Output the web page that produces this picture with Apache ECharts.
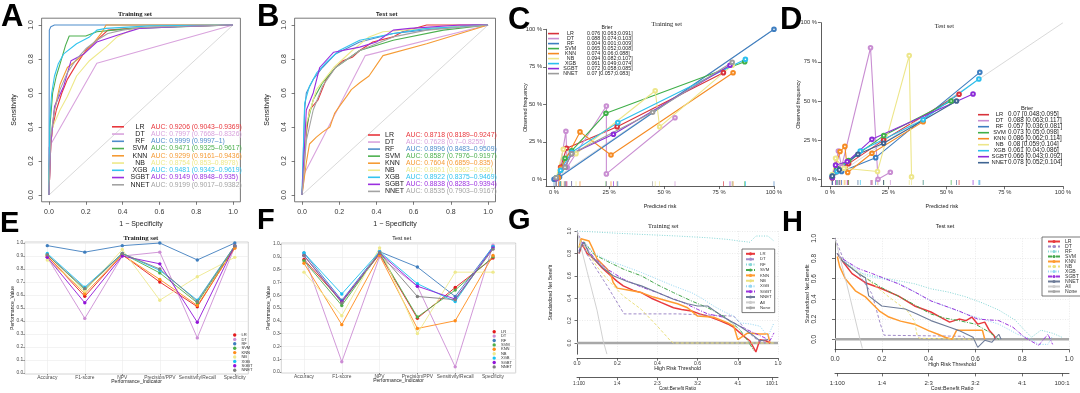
<!DOCTYPE html>
<html><head><meta charset="utf-8">
<script src="https://cdn.jsdelivr.net/npm/echarts@6/dist/echarts.min.js"></script>
<style>html,body{margin:0;padding:0;background:#fff}#c{width:1080px;height:393px}</style>
</head><body><div id="c"></div>
<script>
// ---------------- DATA ----------------
const models = ['LR','DT','RF','SVM','KNN','NB','XGB','SGBT','NNET'];
const dcaNames = ['LR','DT','RF','SVM','KNN','NB','XGB','SGBT','NNET','All','None'];

const aucTrain = ['0.9206 (0.9043\u20130.9369)','0.7997 (0.7668\u20130.8326)','0.9999 (0.9997\u20131)','0.9471 (0.9325\u20130.9617)','0.9299 (0.9161\u20130.9436)','0.8754 (0.853\u20130.8978)','0.9481 (0.9342\u20130.9619)','0.9149 (0.8948\u20130.935)','0.9199 (0.9017\u20130.9382)'];
const aucTest = ['0.8718 (0.8189\u20130.9247)','0.7628 (0.7\u20130.8255)','0.8996 (0.8483\u20130.9509)','0.8587 (0.7976\u20130.9197)','0.7604 (0.6859\u20130.835)','0.8861 (0.8362\u20130.936)','0.8922 (0.8375\u20130.9469)','0.8838 (0.8283\u20130.9394)','0.8535 (0.7903\u20130.9167)'];

const brierTrain = ['0.076 [0.063;0.091]','0.088 [0.074;0.103]','0.004 [0.001;0.009]','0.065 [0.052;0.008]','0.074 [0.06;0.088]','0.094 [0.082;0.107]','0.061 [0.049;0.074]','0.072 [0.058;0.085]','0.07 [0.057;0.083]'];
const brierTest = ['0.07 [0.048;0.095]','0.088 [0.063;0.117]','0.057 [0.036;0.081]','0.073 [0.05;0.098]','0.086 [0.062;0.114]','0.08 [0.059;0.104]','0.061 [0.04;0.086]','0.066 [0.043;0.092]','0.078 [0.052;0.104]'];

// ROC curves [1-specificity, sensitivity]
const rocTrain = [
 [[0,0],[0.01,0.3],[0.02,0.4],[0.04,0.5],[0.07,0.6],[0.1,0.68],[0.15,0.77],[0.2,0.85],[0.25,0.9],[0.28,0.93],[0.32,0.97],[0.45,0.98],[0.6,0.99],[1,1]],
 [[0,0],[0,0.28],[0.26,0.775],[1,1]],
 [[0,0],[0.002,0.97],[0.01,0.99],[0.03,1],[1,1]],
 [[0,0],[0.005,0.4],[0.02,0.6],[0.04,0.7],[0.06,0.77],[0.09,0.88],[0.11,0.935],[0.2,0.935],[0.26,0.96],[0.35,0.97],[0.46,0.98],[1,1]],
 [[0,0],[0.01,0.3],[0.03,0.5],[0.06,0.65],[0.1,0.75],[0.17,0.81],[0.24,0.89],[0.29,0.96],[0.31,1],[1,1]],
 [[0,0],[0.005,0.27],[0.02,0.4],[0.06,0.5],[0.1,0.58],[0.15,0.7],[0.22,0.79],[0.31,0.87],[0.37,0.93],[0.46,0.98],[0.6,0.99],[1,1]],
 [[0,0],[0.005,0.45],[0.015,0.6],[0.03,0.7],[0.05,0.77],[0.08,0.83],[0.15,0.89],[0.22,0.93],[0.26,0.97],[0.31,0.98],[0.55,0.995],[1,1]],
 [[0,0],[0.01,0.3],[0.03,0.52],[0.08,0.64],[0.12,0.79],[0.19,0.83],[0.26,0.9],[0.37,0.94],[0.49,0.98],[0.7,0.99],[1,1]],
 [[0,0],[0.01,0.35],[0.03,0.5],[0.06,0.62],[0.1,0.72],[0.15,0.8],[0.2,0.86],[0.26,0.91],[0.32,0.95],[0.4,0.97],[0.5,0.985],[1,1]]
];
const rocTest = [
 [[0,0],[0.023,0.36],[0.04,0.5],[0.086,0.56],[0.13,0.68],[0.18,0.75],[0.22,0.79],[0.27,0.81],[0.31,0.85],[0.38,0.9],[0.49,0.93],[0.54,0.96],[0.67,1],[1,1]],
 [[0,0],[0.014,0.13],[0.34,0.82],[1,1]],
 [[0,0],[0.014,0.5],[0.023,0.6],[0.06,0.68],[0.11,0.75],[0.18,0.83],[0.31,0.9],[0.49,0.95],[0.74,0.98],[0.92,1],[1,1]],
 [[0,0],[0.023,0.4],[0.06,0.56],[0.11,0.66],[0.18,0.75],[0.31,0.85],[0.49,0.91],[0.76,0.97],[1,1]],
 [[0,0],[0.023,0.19],[0.04,0.3],[0.077,0.34],[0.11,0.37],[0.15,0.4],[0.175,0.48],[0.2,0.52],[0.24,0.58],[0.265,0.62],[0.31,0.66],[0.36,0.7],[0.41,0.78],[0.435,0.82],[0.67,0.89],[1,1]],
 [[0,0],[0.023,0.42],[0.077,0.62],[0.17,0.75],[0.27,0.85],[0.36,0.93],[0.435,0.96],[0.67,0.98],[1,1]],
 [[0,0],[0.014,0.54],[0.04,0.64],[0.08,0.72],[0.13,0.78],[0.2,0.85],[0.31,0.91],[0.49,0.95],[0.67,0.98],[0.85,0.99],[1,1]],
 [[0,0],[0.023,0.5],[0.06,0.6],[0.095,0.75],[0.17,0.84],[0.31,0.87],[0.4,0.9],[0.49,0.97],[0.58,0.98],[0.85,1],[1,1]],
 [[0,0],[0.023,0.32],[0.06,0.5],[0.11,0.64],[0.18,0.75],[0.31,0.85],[0.49,0.93],[0.67,0.97],[1,1]]
];

// Calibration [predicted %, observed %]
const calTrain = [
 [[1,0.5],[3,8],[5.7,20.7],[28.7,35.1],[77,71.1]],
 [[2,1],[5.4,32],[6,8],[23.8,48.9],[23.8,3.6],[55,41]],
 [[0,0],[2.5,1.5],[100,100]],
 [[1,1],[3,6],[5,14],[8,19],[23.6,44],[86.7,78.4]],
 [[2,1],[3.2,7.3],[11.8,31.6],[25.9,16.2],[81.4,71]],
 [[1,1],[4.2,20],[10,17],[46,59],[48,35],[81,76]],
 [[1,1],[3,6],[8,18],[29,37.8],[87,80]],
 [[1,0.5],[5,8],[8,17],[27,30],[80,76]],
 [[1,1],[5,8],[8,17],[44.8,44.7],[81,78]]
];
const calTest = [
 [[1,1],[3,5],[8,10],[23,25],[55.4,54.3]],
 [[1,1],[3.6,18],[5,8],[17.4,84],[20.6,0],[25.9,4.5]],
 [[1,2],[5,5],[19.6,13.8],[64.3,68.3]],
 [[1,1],[3,7],[8,12],[23.1,27.9],[52,50]],
 [[1,1],[4.3,17.7],[6.4,21],[7.6,4.3],[18,16.6],[40,36.8]],
 [[1,3],[2.4,13.4],[6,7],[20.4,5],[34,79],[35,1.5]],
 [[1,2],[3,5],[13,18],[40,38],[63.9,64]],
 [[1,1],[2.4,9],[7.4,11.3],[18,25.5],[61.4,54.5]],
 [[1,2],[4,6],[12,16],[23,23],[54.3,50]]
];

// Performance metrics
const perfCategories = ['Accuracy','F1-score','NPV','Precision/PPV','Sensitivity/Recall','Specificity'];
const perfTrain = [
 [0.90,0.59,0.91,0.70,0.51,0.97],
 [0.89,0.42,0.90,0.93,0.27,0.97],
 [0.98,0.93,0.98,1.00,0.87,1.00],
 [0.91,0.64,0.92,0.77,0.54,0.97],
 [0.90,0.61,0.91,0.72,0.52,0.96],
 [0.87,0.63,0.95,0.56,0.74,0.89],
 [0.92,0.66,0.92,0.79,0.56,0.98],
 [0.89,0.54,0.90,0.84,0.39,0.98],
 [0.91,0.65,0.92,0.80,0.55,0.98]
];
const perfTest = [
 [0.88,0.55,0.92,0.42,0.66,0.89],
 [0.91,0.08,0.90,0.67,0.04,0.99],
 [0.93,0.56,0.94,0.82,0.59,0.98],
 [0.87,0.52,0.93,0.43,0.64,0.90],
 [0.85,0.37,0.91,0.34,0.40,0.91],
 [0.78,0.44,0.97,0.30,0.78,0.78],
 [0.93,0.61,0.94,0.69,0.55,0.98],
 [0.91,0.55,0.93,0.67,0.57,0.97],
 [0.91,0.54,0.93,0.59,0.565,0.96]
];

// Decision curves [threshold, standardized net benefit]
const dcaTrain = [
 [[0.01,0.8],[0.027,0.88],[0.05,0.8],[0.085,0.75],[0.12,0.68],[0.15,0.63],[0.2,0.55],[0.23,0.51],[0.28,0.47],[0.32,0.45],[0.37,0.4],[0.42,0.36],[0.48,0.315],[0.52,0.3],[0.57,0.285],[0.61,0.26],[0.65,0.24],[0.71,0.2],[0.75,0.17],[0.78,0.14],[0.83,0.06],[0.86,0.02],[0.89,-0.08],[0.91,0.03],[0.94,0.02],[0.96,0]],
 [[0,1],[0.05,0.79],[0.1,0.65],[0.15,0.51],[0.234,0.26],[0.5,0.26],[0.78,0.24],[0.85,0.1],[0.9,0.02],[0.95,0]],
 [[0,1],[0.1,0.99],[0.2,0.98],[0.32,0.97],[0.5,0.955],[0.65,0.94],[0.75,0.925],[0.81,0.91],[0.86,0.9],[0.89,0.955],[0.95,0.955],[0.98,0.91]],
 [[0.01,0.82],[0.035,0.9],[0.085,0.79],[0.15,0.73],[0.23,0.66],[0.32,0.6],[0.4,0.52],[0.48,0.45],[0.57,0.375],[0.65,0.315],[0.73,0.24],[0.81,0.12],[0.85,0.02],[0.88,-0.07]],
 [[0.01,0.85],[0.02,0.93],[0.06,0.91],[0.076,0.85],[0.1,0.75],[0.15,0.66],[0.17,0.6],[0.18,0.54],[0.2,0.49],[0.26,0.47],[0.32,0.45],[0.38,0.41],[0.45,0.375],[0.5,0.35],[0.55,0.315],[0.6,0.24],[0.68,0.23],[0.75,0.18],[0.78,0.15],[0.8,0.03],[0.85,0.09],[0.91,0.08],[0.95,0.08],[0.96,0]],
 [[0.01,0.85],[0.02,0.92],[0.05,0.82],[0.1,0.68],[0.15,0.57],[0.23,0.42],[0.32,0.3],[0.4,0.15],[0.465,0.02],[0.48,0],[0.98,0]],
 [[0.01,0.85],[0.035,0.91],[0.085,0.8],[0.15,0.74],[0.23,0.69],[0.32,0.63],[0.4,0.57],[0.48,0.51],[0.57,0.45],[0.62,0.4],[0.68,0.33],[0.73,0.28],[0.78,0.24],[0.81,0.18],[0.86,0.17],[0.91,0.15],[0.95,0.06],[0.98,0.18]],
 [[0.01,0.82],[0.027,0.9],[0.085,0.76],[0.15,0.66],[0.23,0.57],[0.32,0.5],[0.4,0.45],[0.47,0.4],[0.53,0.36],[0.6,0.3],[0.65,0.26],[0.73,0.23],[0.81,0.15],[0.88,0.09],[0.93,0.05],[0.96,0.02],[0.98,0.09]],
 [[0.01,0.8],[0.02,0.87],[0.035,0.9],[0.06,0.8],[0.085,0.75],[0.13,0.67],[0.18,0.6],[0.25,0.55],[0.32,0.51],[0.4,0.45],[0.48,0.39],[0.55,0.35],[0.6,0.33],[0.65,0.33],[0.69,0.28],[0.73,0.23],[0.81,0.15],[0.86,0.09],[0.91,0.02],[0.95,0.03]],
 [[0,1],[0.05,0.64],[0.1,0.29],[0.13,0.02],[0.149,-0.1]],
 [[0,0],[1,0]]
];
const dcaTest = [
 [[0.01,0.85],[0.03,0.78],[0.073,0.65],[0.13,0.56],[0.2,0.5],[0.27,0.43],[0.34,0.33],[0.41,0.27],[0.45,0.22],[0.49,0.17],[0.53,0.2],[0.56,0.185],[0.585,0.22],[0.61,0.15],[0.64,0.17],[0.66,0.086],[0.68,0.036],[0.685,0]],
 [[0,1],[0.044,0.75],[0.1,0.65],[0.158,0.45],[0.194,0.15],[0.21,0.04],[0.55,0.03],[0.56,0]],
 [[0.01,0.85],[0.03,0.8],[0.1,0.66],[0.2,0.61],[0.27,0.58],[0.34,0.55],[0.41,0.5],[0.48,0.47],[0.56,0.42],[0.63,0.36],[0.7,0.29],[0.77,0.19],[0.81,0.09],[0.84,0.02],[0.88,0.09],[0.93,0.06],[0.97,0.02]],
 [[0.01,0.85],[0.03,0.78],[0.1,0.65],[0.2,0.51],[0.31,0.38],[0.41,0.25],[0.47,0.21],[0.53,0.185],[0.6,0.15],[0.66,0.07],[0.7,0]],
 [[0.01,0.82],[0.02,0.72],[0.044,0.6],[0.087,0.48],[0.13,0.42],[0.16,0.35],[0.19,0.28],[0.23,0.22],[0.28,0.18],[0.34,0.15],[0.4,0.086],[0.44,0.05],[0.47,0.02],[0.5,0],[0.52,0.09],[0.63,0.09],[0.64,0]],
 [[0.01,0.85],[0.03,0.78],[0.13,0.61],[0.23,0.42],[0.31,0.28],[0.34,0.18],[0.35,0.05],[0.36,0.01],[0.6,0]],
 [[0.01,0.85],[0.03,0.8],[0.13,0.63],[0.2,0.6],[0.27,0.56],[0.34,0.47],[0.41,0.38],[0.48,0.32],[0.56,0.25],[0.63,0.2],[0.7,0.15],[0.78,0.05],[0.84,0],[0.87,-0.05],[0.91,-0.05],[0.93,0.035]],
 [[0.01,0.85],[0.03,0.8],[0.1,0.7],[0.16,0.65],[0.27,0.55],[0.34,0.47],[0.41,0.38],[0.47,0.33],[0.53,0.28],[0.61,0.2],[0.7,0.185],[0.76,0.12],[0.81,0.02],[0.87,-0.06],[0.91,0.05],[0.93,-0.05]],
 [[0.01,0.85],[0.03,0.78],[0.1,0.65],[0.13,0.61],[0.144,0.43],[0.2,0.33],[0.3,0.3],[0.35,0.25],[0.41,0.185],[0.49,0.12],[0.53,0.086],[0.59,0.02],[0.61,-0.08],[0.64,-0.01],[0.67,-0.03],[0.7,0.05],[0.71,0]],
 [[0,1],[0.05,0.55],[0.107,0],[0.117,-0.09]],
 [[0,0],[1,0]]
];

// Tick values
const rocTicks = [0,0.2,0.4,0.6,0.8,1];
const calTicks = [0,25,50,75,100];
const perfTicks = [0,0.1,0.2,0.3,0.4,0.5,0.6,0.7,0.8,0.9,1];
const perfIdx = [0,1,2,3,4,5];
const dcaTicks = [0,0.2,0.4,0.6,0.8,1];
const cbValues = [0.01,0.2,0.4,0.6,0.8,0.97];
const cbLabels = ['1:100','1:4','2:3','3:2','4:1','100:1'];

// ---------------- STYLES ----------------
const SANS = 'Liberation Sans, Arial, sans-serif';
const SERIF = 'Liberation Serif, Times New Roman, serif';
const rocColors = ['#E8363C','#D9A3DD','#4F8DCB','#4DB04F','#F59B35','#EEE98A','#33C4EE','#9A2FDF','#A3A3A3'];
const calColorsTr = ['#D8323B','#C98ED2','#3E7EC0','#3FAF49','#F58A22','#EDE68A','#2BBFEE','#8C2BD8','#9C9C9C'];
const calColorsTe = ['#D8323B','#C98ED2','#3E7EC0','#3FAF49','#F58A22','#EDE68A','#2BBFEE','#8C2BD8','#3F6492'];
const perfColors = ['#E41A1C','#CC8CD4','#3F7EBE','#4DAF4A','#FF8C1A','#EEE98E','#18C2F1','#9214D8','#7F7F7F'];
const dcaColors = ['#E8383D','#A08AC9','#86D6D6','#45A84D','#FF9B30','#EBE07C','#93D6F2','#9B36DD','#6E7C99','#CCCCCC','#A8A8A8'];
const dcaTypes = ['solid',[3,2],[1,1.5],[4,1.5,1,1.5],'solid',[3,2],[1,1.5],[4,1.5,1,1.5],'solid','solid','solid'];
const dcaWidths = [1.5,1,1,1,1.5,1,1,1,1.1,0.9,2.6];

// ---------------- LAYOUT ----------------
const grids = [
 {left:41.6, top:18.2, width:198.8, height:183.6, show:true, borderColor:'#555', borderWidth:0.8},
 {left:294.6, top:18.2, width:200.9, height:183.6, show:true, borderColor:'#555', borderWidth:0.8},
 {left:546.1, top:29.3, width:227.9, height:156.75},
 {left:820.9, top:22.7, width:242.1, height:163.6},
 {left:24.8, top:242, width:223.5, height:132, show:true, borderColor:'#b5b5b5', borderWidth:0.6},
 {left:281.3, top:243, width:234.4, height:130, show:true, borderColor:'#b5b5b5', borderWidth:0.6},
 {left:577, top:231, width:201, height:123.2},
 {left:835, top:238.3, width:234, height:111.1}
].map(g => Object.assign({outerBoundsMode:'none', containLabel:false, backgroundColor:'transparent'}, g));

function ax(p) {
  const lc = p.lc || '#333';
  return {
    type:'value', gridIndex:p.g, min:p.min, max:p.max, position:p.pos, offset:p.offset || 0,
    nameMoveOverlap:false,
    axisLine:{show:p.line !== false, onZero:false, lineStyle:{color:lc, width:0.8}},
    axisTick:{show:true, inside:false, length:p.tl || 3, customValues:p.ticks, lineStyle:{color:lc, width:0.7}},
    axisLabel:{show:true, customValues:p.ticks, formatter:p.fmt, fontSize:p.fs, margin:p.m, rotate:p.rot || 0,
      color:p.tc || '#333', fontFamily:SANS, showMinLabel:true, showMaxLabel:true, hideOverlap:false},
    splitLine:{show:!!p.split, lineStyle:p.split || {}},
    name:p.name, nameLocation:'middle', nameGap:p.ng,
    nameTextStyle:{fontSize:p.nfs, color:'#222', fontFamily:SANS}
  };
}
const f1 = v => v.toFixed(1);
const fp = v => v + ' %';
const fc = v => perfCategories[Math.round(v)];
const fcb = v => cbLabels[cbValues.indexOf(v)];
const perfSplit = {color:'#ebebeb', width:0.6};
const dcaSplit = {color:'#dedede', width:0.6, type:[1,1.5]};

const xAxis = [
 ax({g:0,min:-0.04,max:1.04,pos:'bottom',ticks:rocTicks,fmt:f1,fs:7,m:7,name:'1 \u2212 Specificity',ng:19,nfs:7,line:false,lc:'#444'}),
 ax({g:1,min:-0.04,max:1.04,pos:'bottom',ticks:rocTicks,fmt:f1,fs:7,m:7,name:'1 \u2212 Specificity',ng:19,nfs:7,line:false,lc:'#444'}),
 ax({g:2,min:-3.6,max:100,pos:'bottom',ticks:calTicks,fmt:fp,fs:5.8,m:3,name:'Predicted risk',ng:17.5,nfs:5.4}),
 ax({g:3,min:-3.9,max:100,pos:'bottom',ticks:calTicks,fmt:fp,fs:5.8,m:3,name:'Predicted risk',ng:18,nfs:5.4}),
 ax({g:4,min:-0.6,max:5.36,pos:'bottom',ticks:perfIdx,fmt:fc,fs:4.9,m:1.5,tl:1.5,line:false,lc:'#555',tc:'#4d4d4d',split:perfSplit,name:'Performance_Indicator',ng:5.5,nfs:5}),
 ax({g:5,min:-0.6,max:5.6,pos:'bottom',ticks:perfIdx,fmt:fc,fs:4.9,m:1.5,tl:1.5,line:false,lc:'#555',tc:'#4d4d4d',split:perfSplit,name:'Performance_Indicator',ng:5.5,nfs:5}),
 ax({g:6,min:0,max:1,pos:'bottom',offset:4,ticks:dcaTicks,fmt:f1,fs:5,m:2.5,tl:2.5,split:dcaSplit,name:'High Risk Threshold',ng:7.5,nfs:5.2}),
 ax({g:6,min:0,max:1,pos:'bottom',offset:23.5,ticks:cbValues,fmt:fcb,fs:4.8,m:3,tl:2.5,name:'Cost:Benefit Ratio',ng:8.3,nfs:4.6}),
 ax({g:7,min:0,max:1,pos:'bottom',offset:0,ticks:dcaTicks,fmt:f1,fs:6.5,m:6.5,tl:3,split:dcaSplit,name:'High Risk Threshold',ng:12.5,nfs:5.3}),
 ax({g:7,min:0,max:1,pos:'bottom',offset:24,ticks:cbValues,fmt:fcb,fs:6,m:7,tl:3,name:'Cost:Benefit Ratio',ng:13,nfs:5.3})
];
const yAxis = [
 ax({g:0,min:-0.04,max:1.04,pos:'left',ticks:rocTicks,fmt:f1,fs:7,m:7,rot:90,name:'Sensitivity',ng:24,nfs:7,line:false,lc:'#444'}),
 ax({g:1,min:-0.04,max:1.04,pos:'left',ticks:rocTicks,fmt:f1,fs:7,m:7,rot:90,name:'Sensitivity',ng:24,nfs:7,line:false,lc:'#444'}),
 ax({g:2,min:-4.5,max:100,pos:'left',ticks:calTicks,fmt:fp,fs:5.8,m:4,name:'Observed frequency',ng:18,nfs:5.4}),
 ax({g:3,min:-4.5,max:100,pos:'left',ticks:calTicks,fmt:fp,fs:5.8,m:4,name:'Observed frequency',ng:20,nfs:5.4}),
 ax({g:4,min:-0.008,max:1.008,pos:'left',ticks:perfTicks,fmt:f1,fs:4.9,m:1.5,tl:1.5,line:false,lc:'#555',tc:'#4d4d4d',split:perfSplit,name:'Performance_Value',ng:10,nfs:5}),
 ax({g:5,min:-0.008,max:1.008,pos:'left',ticks:perfTicks,fmt:f1,fs:4.9,m:1.5,tl:1.5,line:false,lc:'#555',tc:'#4d4d4d',split:perfSplit,name:'Performance_Value',ng:10,nfs:5}),
 ax({g:6,min:-0.1,max:1,pos:'left',ticks:dcaTicks,fmt:f1,fs:5,m:5,rot:90,tl:2.5,split:dcaSplit,name:'Standardized Net Benefit',ng:24,nfs:5}),
 ax({g:7,min:-0.1,max:1,pos:'left',ticks:dcaTicks,fmt:f1,fs:6.5,m:17,rot:90,tl:3,split:dcaSplit,name:'Standardized Net Benefit',ng:25,nfs:5.3})
];

// ---------------- SERIES ----------------
const series = [];
function diag(ax, maxv) {
  series.push({type:'line', xAxisIndex:ax, yAxisIndex:ax, data:[[0,0],[maxv,maxv]], symbol:'none', silent:true,
    lineStyle:{color:'#cfcfcf', width:0.8}, z:1});
}
// ROC
diag(0,1); diag(1,1);
[[rocTrain,0,'A'],[rocTest,1,'B']].forEach(([set, a, p]) => {
  set.forEach((pts, i) => series.push({type:'line', name:p+'|'+models[i], xAxisIndex:a, yAxisIndex:a,
    data:pts, symbol:'none', lineStyle:{color:rocColors[i], width:1.1}, itemStyle:{color:rocColors[i]}, z:2}));
});
// Calibration
diag(2,100); diag(3,100);
[[calTrain,2,'C',calColorsTr,-2.9],[calTest,3,'D',calColorsTe,-2.0]].forEach(([set, a, p, cols, rugY]) => {
  set.forEach((pts, i) => {
    series.push({type:'scatter', name:p+'rug|'+models[i], xAxisIndex:a, yAxisIndex:a,
      data:pts.map(q => [q[0], rugY]), symbol:'rect', symbolSize:[0.8,5], itemStyle:{color:cols[i]}, silent:true, z:2});
    series.push({type:'line', name:p+'|'+models[i], xAxisIndex:a, yAxisIndex:a, data:pts,
      symbol:'emptyCircle', symbolSize:3.6, showSymbol:true, showAllSymbol:true, clip:false,
      lineStyle:{color:cols[i], width:1.1}, itemStyle:{color:cols[i], borderColor:cols[i], borderWidth:0.9}, z:3});
  });
});
// Performance
[[perfTrain,4,'E'],[perfTest,5,'F']].forEach(([set, a, p]) => {
  set.forEach((vals, i) => series.push({type:'line', name:p+'|'+models[i], xAxisIndex:a, yAxisIndex:a,
    data:vals.map((v, j) => [j, v]), symbol:'circle', symbolSize:3.4, showAllSymbol:true, clip:false,
    lineStyle:{color:perfColors[i], width:0.9}, itemStyle:{color:perfColors[i]}, z:3}));
});
// Decision curves
[[dcaTrain,6,6,'G'],[dcaTest,8,7,'H']].forEach(([set, xa, ya, p]) => {
  set.forEach((pts, i) => series.push({type:'line', name:p+'|'+dcaNames[i], xAxisIndex:xa, yAxisIndex:ya,
    data:pts, symbol:'none', clip:true,
    lineStyle:{color:dcaColors[i], width:dcaWidths[i], type:dcaTypes[i]}, itemStyle:{color:dcaColors[i]}, z: i === 10 ? 2 : 3}));
});

// ---------------- LEGENDS ----------------
const strip = n => n.split('|')[1];
function rocRich(fs, lh, nw, na) {
  const r = {n:{fontSize:fs, color:'#222', width:nw, align:na, lineHeight:lh, fontFamily:SANS}};
  models.forEach((m, i) => r['c'+i] = {fontSize:fs-0.2, color:rocColors[i], lineHeight:lh, fontFamily:SANS});
  return r;
}
const legends = [
 {left:112, top:123.3, itemWidth:12, itemHeight:1.6, itemGap:0.25, rich:rocRich(7, 8, 22, 'center'), auc:aucTrain, p:'A'},
 {left:368, top:131.5, itemWidth:12, itemHeight:1.6, itemGap:0.05, rich:rocRich(7, 7, 21, 'left'), auc:aucTest, p:'B'}
].map(L => ({
  orient:'vertical', left:L.left, top:L.top, padding:0, itemWidth:L.itemWidth, itemHeight:L.itemHeight, itemGap:L.itemGap,
  icon:'rect', selectedMode:false, itemStyle:{borderWidth:0}, data:models.map(m => L.p+'|'+m),
  formatter: n => { const i = models.indexOf(strip(n)); return '{n|' + models[i] + '}{c' + i + '|AUC: ' + L.auc[i] + '}'; },
  textStyle:{rich:L.rich, fontSize:7, fontFamily:SANS}
}));
function calLegend(p, left, top, nw, pad, fsN, fsV, lh, briers) {
  return {orient:'vertical', left:left, top:top, padding:0, itemWidth:11, itemHeight:1.6, itemGap:0,
    icon:'rect', selectedMode:false, itemStyle:{borderWidth:0}, data:models.map(m => p+'|'+m),
    formatter: n => { const i = models.indexOf(strip(n)); return '{n|' + models[i] + '}{v|' + briers[i] + '}'; },
    textStyle:{fontFamily:SANS, rich:{
      n:{fontSize:fsN, color:'#222', width:nw, align:'right', lineHeight:lh, fontFamily:SANS},
      v:{fontSize:fsV, color:'#222', padding:[0,0,0,pad], lineHeight:lh, fontFamily:SANS}}}};
}
legends.push(calLegend('C', 548, 31.1, 13, 10, 5.3, 5.3, 6.33, brierTrain));
legends.push(calLegend('D', 978, 111.7, 11, 3, 5.8, 6.3, 6.6, brierTest));
function perfLegend(p, left, top) {
  return {orient:'vertical', left:left, top:top, padding:0, itemWidth:3.4, itemHeight:3.4, itemGap:0,
    icon:'circle', selectedMode:false, itemStyle:{borderWidth:0}, data:models.map(m => p+'|'+m), formatter:strip,
    textStyle:{fontSize:4.1, lineHeight:4.4, color:'#333', fontFamily:SANS}};
}
legends.push(perfLegend('E', 233, 332.8));
legends.push(perfLegend('F', 492.5, 329.5));
function dcaLegend(p, left, top, pad, iw, fs, lh, gap) {
  return {orient:'vertical', left:left, top:top, padding:pad, itemWidth:iw, itemHeight:4, itemGap:gap,
    borderColor:'#555', borderWidth:0.8, backgroundColor:'#fff', selectedMode:false,
    data:dcaNames.map(m => p+'|'+m), formatter:strip,
    textStyle:{fontSize:fs, lineHeight:lh, color:'#333', fontFamily:SANS}};
}
legends.push(dcaLegend('G', 742, 249, [2.5,3,2.5,3], 9, 4.3, 4.6, 0.8));
legends.push(dcaLegend('H', 1042, 237, [2,2,2,5], 12, 5.1, 4.7, 0));

// ---------------- TEXT ----------------
const graphic = [];
[['A',1,17,31],['B',257,17,31],['C',508,20,31],['D',780,20,31],['E',0,224,29],['F',257,221,29],['G',508,221,29],['H',782,223,29]]
.forEach(([t, x, y, s]) => graphic.push({type:'text', x:x, y:y, silent:true,
  style:{text:t, font:'bold ' + s + 'px ' + SANS, fill:'#000', align:'left', verticalAlign:'middle', textAlign:'left', textVerticalAlign:'middle'}}));
[['Training set',135,14,'bold 6.6px ' + SERIF],['Test set',386.7,14,'bold 5.8px ' + SANS],
 ['Training set',666.7,24.3,'6.4px ' + SERIF],['Test set',944.3,26,'6.4px ' + SERIF],
 ['Training set',140.8,238,'bold 6.8px ' + SERIF],['Test set',401.7,238.3,'5.5px ' + SANS],
 ['Training set',663.3,226.7,'6.4px ' + SERIF],['Test set',945,226.7,'5.4px ' + SANS],
 ['Brier',607,28,'5.2px ' + SANS],['Brier',1027,108,'5.8px ' + SANS]]
.forEach(([t, x, y, f]) => graphic.push({type:'text', x:x, y:y, silent:true,
  style:{text:t, font:f, fill:'#222', align:'center', verticalAlign:'middle', textAlign:'center', textVerticalAlign:'middle'}}));

const chart = echarts.init(document.getElementById('c'), null, {renderer:'canvas'});
chart.setOption({
  animation:false, backgroundColor:'#ffffff',
  grid:grids, xAxis:xAxis, yAxis:yAxis, series:series, legend:legends, graphic:graphic,
  tooltip:{show:false}
});
</script></body></html>
